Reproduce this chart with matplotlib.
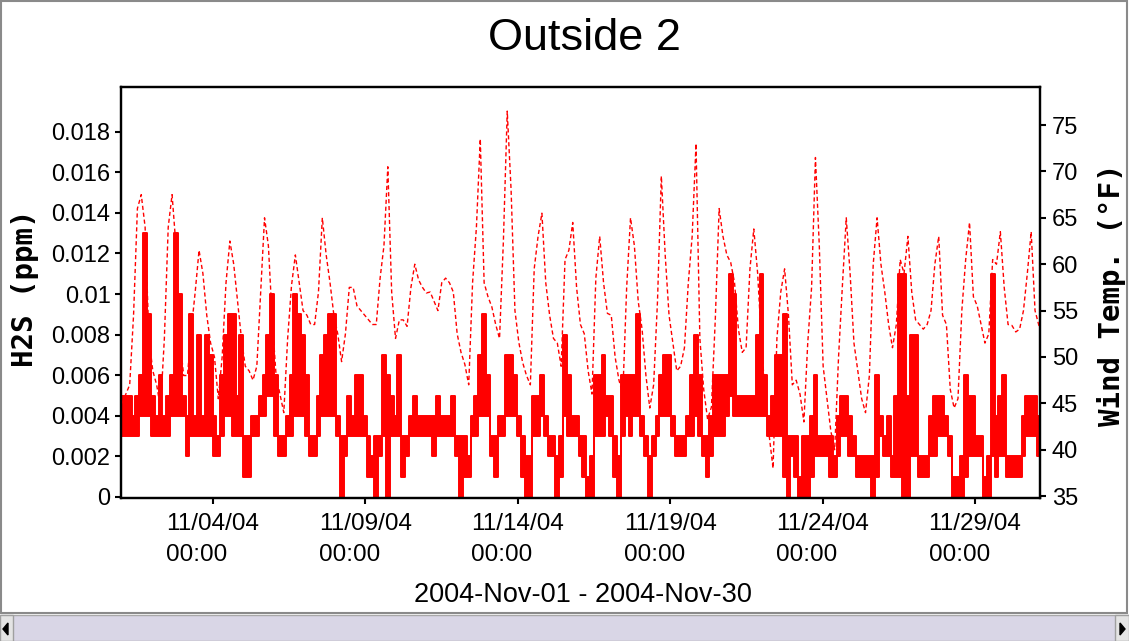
import numpy as np
import pandas as pd
import matplotlib
matplotlib.use('Agg')
import matplotlib.pyplot as plt
import matplotlib.dates as mdates
from matplotlib.patches import Rectangle, Polygon

plt.rcParams['font.family'] = ['Liberation Sans', 'DejaVu Sans']

# readings, one every ~3 h (182 min), 8 per row ~ one day
temp_f = [
    45, 46, 47, 54.5, 66, 67.5, 64, 52,
    48.5, 47, 44.5, 52, 64, 67.5, 62, 52,
    48, 48, 53, 57, 61.5, 59, 54.5, 51.5,
    50, 45.5, 50, 58, 62.5, 60, 56, 52,
    49, 48.5, 47.5, 49, 57, 65, 62, 54,
    48, 46, 44, 52, 57.7, 61, 58, 55,
    54.5, 53.5, 53.5, 57, 65, 61, 58, 54.5,
    52.5, 49.5, 52.5, 57.5, 57.5, 55.5, 55, 54.5,
    54, 53.5, 53.5, 58.5, 62, 70.5, 57, 52,
    54, 54, 53.3, 57.5, 60, 58.3, 57.5, 56.9,
    57, 56, 55, 58, 58.5, 58, 57, 52.5,
    50.5, 49.2, 47, 58, 64, 73.5, 58, 56.5,
    55.4, 53.5, 52, 62.5, 76.5, 68, 55, 51.6,
    49.4, 48, 47, 59.5, 63, 65.5, 58, 54.5,
    52, 51.5, 49, 60.5, 61.5, 64.5, 57.5, 53.5,
    52.5, 48.5, 46, 58.5, 63, 58, 54.7, 54.5,
    50, 47.5, 46, 57.5, 65, 62, 56, 53,
    48, 44.5, 47, 56, 69.5, 61, 54.5, 51.5,
    48.5, 49, 51, 58, 63, 73, 52, 46.5,
    43.3, 44.6, 54, 66, 63, 61, 60.2, 58,
    53, 50.5, 51, 59.5, 63.8, 59, 51.5, 45.5,
    41.5, 38, 52, 57, 59.5, 54.5, 47, 47.5,
    46, 43, 51.5, 57.5, 71.5, 62, 49, 45.5,
    42, 40, 50, 57.7, 65, 59, 51.5, 48.5,
    45.5, 44, 48, 60, 65, 60, 57, 53.5,
    51, 53.5, 60.5, 59, 63, 57, 54, 53.5,
    53, 53.5, 55, 60, 63, 54.5, 53.5, 46.5,
    44.5, 45.5, 55, 60.5, 64.5, 56.5, 55.5, 53.5,
    51.5, 52.5, 60.5, 60, 63.5, 57.5, 53.5, 53.4,
    52.7, 53, 55, 59, 63.5, 55, 53.4, 53,
]

# H2S range within each reading interval, in ppb (0.001 ppm)
h2s_lo_ppb = [
    3, 3, 3, 3, 3, 4, 4, 4,
    3, 3, 3, 3, 3, 4, 4, 4,
    4, 2, 3, 3, 3, 3, 3, 3,
    2, 2, 3, 4, 4, 3, 3, 3,
    1, 1, 3, 3, 4, 4, 5, 5,
    3, 2, 2, 3, 3, 4, 4, 4,
    3, 2, 2, 3, 4, 4, 4, 4,
    3, 0, 2, 3, 3, 3, 3, 3,
    1, 1, 0, 2, 3, 0, 3, 3,
    3, 1, 2, 3, 3, 3, 3, 3,
    3, 2, 3, 3, 3, 3, 3, 2,
    0, 1, 1, 3, 3, 4, 4, 4,
    2, 1, 3, 3, 4, 4, 4, 3,
    1, 0, 0, 3, 3, 4, 3, 2,
    2, 0, 1, 4, 3, 3, 3, 2,
    1, 0, 0, 3, 3, 3, 4, 3,
    1, 0, 3, 4, 3, 4, 4, 3,
    2, 0, 2, 3, 4, 4, 4, 3,
    2, 2, 2, 3, 3, 4, 3, 2,
    1, 2, 3, 3, 3, 4, 5, 4,
    4, 4, 4, 4, 4, 4, 4, 4,
    3, 3, 3, 3, 1, 0, 2, 1,
    0, 0, 0, 1, 2, 2, 2, 2,
    1, 1, 2, 3, 3, 2, 2, 1,
    1, 1, 1, 0, 1, 3, 2, 2,
    1, 1, 1, 0, 0, 2, 2, 1,
    1, 1, 2, 2, 3, 3, 3, 2,
    0, 0, 0, 1, 2, 2, 2, 2,
    0, 0, 2, 1, 2, 2, 1, 1,
    1, 1, 2, 3, 3, 3, 2, 2,
]
h2s_hi_ppb = [
    5, 5, 5, 4, 5, 6, 13, 9,
    5, 4, 6, 4, 5, 6, 13, 10,
    5, 4, 9, 4, 8, 4, 8, 7,
    4, 3, 6, 8, 9, 9, 5, 8,
    3, 3, 4, 4, 5, 6, 8, 10,
    6, 3, 3, 4, 6, 10, 9, 8,
    6, 3, 3, 5, 7, 8, 9, 9,
    4, 3, 3, 5, 4, 6, 6, 4,
    3, 2, 3, 3, 7, 6, 5, 4,
    7, 3, 3, 4, 5, 4, 4, 4,
    4, 4, 5, 4, 4, 4, 5, 3,
    3, 3, 2, 4, 5, 7, 9, 6,
    3, 3, 4, 4, 7, 7, 6, 4,
    3, 2, 2, 5, 5, 6, 4, 3,
    3, 2, 3, 8, 6, 4, 4, 3,
    3, 1, 2, 6, 6, 7, 5, 5,
    3, 2, 6, 6, 6, 6, 9, 4,
    3, 2, 3, 4, 6, 7, 7, 4,
    3, 3, 3, 4, 6, 8, 6, 3,
    3, 4, 6, 6, 6, 6, 11, 10,
    5, 5, 5, 5, 5, 8, 11, 6,
    4, 5, 7, 7, 9, 3, 3, 3,
    1, 3, 3, 4, 6, 3, 3, 3,
    3, 2, 4, 5, 5, 4, 3, 2,
    2, 2, 2, 2, 6, 4, 3, 4,
    2, 5, 11, 11, 5, 8, 8, 2,
    2, 2, 4, 5, 5, 5, 4, 3,
    1, 1, 2, 6, 5, 5, 3, 3,
    1, 2, 11, 4, 5, 6, 2, 2,
    2, 2, 4, 5, 5, 5, 4, 4,
]

tick_days = ['2004-11-04', '2004-11-09', '2004-11-14', '2004-11-19', '2004-11-24', '2004-11-29']
tick_text = ['11/04/04\n00:00', '11/09/04\n00:00', '11/14/04\n00:00',
             '11/19/04\n00:00', '11/24/04\n00:00', '11/29/04\n00:00']
h2s_ticks = [0, 0.002, 0.004, 0.006, 0.008, 0.01, 0.012, 0.014, 0.016, 0.018]
temp_ticks = [35, 40, 45, 50, 55, 60, 65, 70, 75]

n = len(temp_f)
edges = pd.date_range('2004-10-31 22:50', periods=n + 1, freq='182min')
centers = edges[:-1] + pd.Timedelta(minutes=91)
lo = np.array(h2s_lo_ppb + [h2s_lo_ppb[-1]]) / 1000.0
hi = np.array(h2s_hi_ppb + [h2s_hi_ppb[-1]]) / 1000.0

W, H = 1129, 641
fig = plt.figure(figsize=(W / 100, H / 100), dpi=100)
ax = fig.add_axes([121 / W, 1 - 498 / H, (1040 - 121) / W, (498 - 87) / H])
ax2 = ax.twinx()

ax.fill_between(edges.values, lo, hi, step='post', color='red', lw=0)
ax.step(edges.values, lo, where='post', color='red', lw=1.4)
ax.step(edges.values, hi, where='post', color='red', lw=1.4)
ax2.plot(centers.values, temp_f, color='red', lw=1.0, ls=(0, (3, 2)))

ax.set_xlim(pd.Timestamp('2004-10-31 23:34'), pd.Timestamp('2004-12-01 03:10'))
ax.set_ylim(-0.00005, 0.0202)
ax2.set_ylim(34.8, 79.1)

ax.set_xticks(pd.to_datetime(tick_days))
ax.set_xticklabels(tick_text, fontsize=17.5)
for lab in ax.get_xticklabels():
    lab.set_multialignment('left')
    lab.set_linespacing(1.55)
ax.set_yticks(h2s_ticks)
ax.set_yticklabels(['%g' % v for v in h2s_ticks])
ax2.set_yticks(temp_ticks)
ax2.set_yticklabels([str(v) for v in temp_ticks])

for a in (ax, ax2):
    for s in a.spines.values():
        s.set_linewidth(1.6)
    a.tick_params(direction='out', length=4.5, width=1.5, labelsize=17, colors='black')
ax.tick_params(axis='x', labelsize=17.5, pad=6)
ax.tick_params(axis='y', pad=3)
ax2.tick_params(axis='y', pad=4)

fig.text(584 / W, 1 - 38 / H, 'Outside 2', fontsize=32.5, ha='center', va='center')
fig.text(583 / W, 1 - 595 / H, '2004-Nov-01 - 2004-Nov-30', fontsize=19.5, ha='center', va='center')
fig.text(25 / W, 1 - 288 / H, 'H2S (ppm)', family='DejaVu Sans Mono', fontsize=21,
         fontweight='bold', rotation=90, ha='center', va='center')
fig.text(1112 / W, 1 - 295 / H, 'Wind Temp. (°F)', family='DejaVu Sans Mono', fontsize=21,
         fontweight='bold', rotation=90, ha='center', va='center')

# window frame and scrollbar
chrome = fig.add_axes([0, 0, 1, 1], zorder=5)
chrome.set_xlim(0, W)
chrome.set_ylim(H, 0)
chrome.axis('off')
chrome.patch.set_alpha(0)
chrome.add_patch(Rectangle((1, 1), W - 3, 612, fill=False, edgecolor='#8a8a8a', lw=1.5))
chrome.add_patch(Rectangle((0, 615), W, 26, facecolor='#d9d6e6', edgecolor='#a8a8a8', lw=1))
chrome.add_patch(Rectangle((0, 615), 13, 26, facecolor='#e4e4e4', edgecolor='#a0a0a0', lw=1))
chrome.add_patch(Rectangle((W - 14, 615), 14, 26, facecolor='#e4e4e4', edgecolor='#a0a0a0', lw=1))
chrome.add_patch(Polygon([(3, 629), (8, 623), (8, 635)], color='black'))
chrome.add_patch(Polygon([(W - 4, 629), (W - 9, 623), (W - 9, 635)], color='black'))

fig.savefig('out.png', dpi=100)
